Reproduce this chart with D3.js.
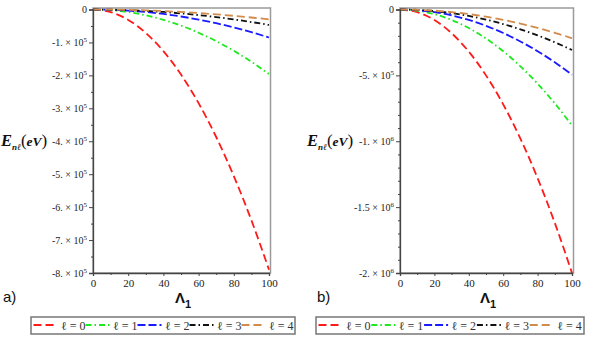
<!DOCTYPE html>
<html><head><meta charset="utf-8">
<script src="https://cdn.jsdelivr.net/npm/d3@7"></script>
<style>
body{margin:0;background:#fff;}
svg{display:block;}
</style></head>
<body>
<svg id="chart" width="589" height="343"></svg>
<script>
// ---------- data ----------
const lambda = [0, 10, 20, 30, 40, 50, 60, 70, 80, 90, 100];
const seriesNames = ["ℓ = 0", "ℓ = 1", "ℓ = 2", "ℓ = 3", "ℓ = 4"];
// panel a) energies (eV)
const a_l0 = [0, -7900, -31600, -71100, -126400, -197500, -284400, -387100, -505600, -639900, -790000];
const a_l1 = [0, -1960, -7840, -17640, -31360, -49000, -70560, -96040, -125440, -158760, -196000];
const a_l2 = [0, -850, -3400, -7650, -13600, -21250, -30600, -41650, -54400, -68850, -85000];
const a_l3 = [0, -470, -1880, -4230, -7520, -11750, -16920, -23030, -30080, -38070, -47000];
const a_l4 = [0, -300, -1200, -2700, -4800, -7500, -10800, -14700, -19200, -24300, -30000];
// panel b) energies (eV)
const b_l0 = [0, -20000, -80000, -180000, -320000, -500000, -720000, -980000, -1280000, -1620000, -2000000];
const b_l1 = [0, -8800, -35200, -79200, -140800, -220000, -316800, -431200, -563200, -712800, -880000];
const b_l2 = [0, -4950, -19800, -44550, -79200, -123750, -178200, -242550, -316800, -400950, -495000];
const b_l3 = [0, -3070, -12280, -27630, -49120, -76750, -110520, -150430, -196480, -248670, -307000];
const b_l4 = [0, -2180, -8720, -19620, -34880, -54500, -78480, -106820, -139520, -176580, -218000];
// ticks
const xTicks = [0, 20, 40, 60, 80, 100];
const xMinor = [10, 30, 50, 70, 90];
const yTicksA = [0, -100000, -200000, -300000, -400000, -500000, -600000, -700000, -800000];
const yTickLabelsA = ["0", "-1. × 10^5", "-2. × 10^5", "-3. × 10^5", "-4. × 10^5", "-5. × 10^5", "-6. × 10^5", "-7. × 10^5", "-8. × 10^5"];
const yMinorA = [-50000, -150000, -250000, -350000, -450000, -550000, -650000, -750000];
const yTicksB = [0, -500000, -1000000, -1500000, -2000000];
const yTickLabelsB = ["0", "-5. × 10^5", "-1. × 10^6", "-1.5 × 10^6", "-2. × 10^6"];
const yMinorB = [-100000, -200000, -300000, -400000, -600000, -700000, -800000, -900000, -1100000, -1200000, -1300000, -1400000, -1600000, -1700000, -1800000, -1900000];

// ---------- styles ----------
const colors = ["#ff1a1a", "#1ee81e", "#1a1aff", "#111111", "#d38a4a"];
const dashes = ["8,4", "6,3,1.5,3", "8,3", "6,3,1.5,3", "8,4"];
const SERIF = "'Liberation Serif', 'Times New Roman', Times, serif";
const SANS = "'Liberation Sans', Arial, sans-serif";

const svg = d3.select("#chart");

function panel(cfg) {
  const x = d3.scaleLinear().domain([0, 100]).range([cfg.x0, cfg.x1]);
  const y = d3.scaleLinear().domain([0, cfg.yMin]).range([cfg.y0, cfg.y1]);
  const g = svg.append("g");

  // frame
  g.append("rect").attr("x", cfg.x0).attr("y", cfg.y0 - 1.5)
    .attr("width", cfg.x1 - cfg.x0 + 1.5).attr("height", cfg.y1 - cfg.y0 + 1.5)
    .attr("fill", "none").attr("stroke", "#9a9a9a").attr("stroke-width", 1.5);

  // clip
  const cid = "clip" + cfg.id;
  svg.append("clipPath").attr("id", cid).append("rect")
    .attr("x", cfg.x0).attr("y", cfg.y0 - 3).attr("width", cfg.x1 - cfg.x0 + 2).attr("height", cfg.y1 - cfg.y0 + 4);

  // lines
  const line = d3.line().x((d, i) => x(lambda[i])).y(d => y(d)).curve(d3.curveMonotoneX);
  cfg.series.forEach((s, i) => {
    g.append("path").attr("d", line(s)).attr("fill", "none")
      .attr("stroke", colors[i]).attr("stroke-width", 1.8)
      .attr("stroke-dasharray", dashes[i]).attr("clip-path", `url(#${cid})`);
  });

  // y axis
  const yAxis = d3.axisLeft(y).tickValues(cfg.yTicks).tickSize(4).tickPadding(2)
    .tickFormat((d, i) => cfg.yLabels[i]);
  const ya = g.append("g").attr("transform", `translate(${cfg.x0},0)`).call(yAxis)
    .attr("font-family", SERIF);
  ya.select(".domain").attr("stroke", "#444").attr("stroke-width", 1.3);
  ya.selectAll(".tick line").attr("stroke", "#444");
  ya.selectAll(".tick text").each(function(d, i) {
    const t = d3.select(this);
    const parts = cfg.yLabels[i].split("^");
    t.text(null).style("font-family", SERIF)
      .attr("font-size", 10).attr("fill", "#222");
    t.append("tspan").text(parts[0]);
    if (parts[1]) t.append("tspan").attr("font-size", 7).attr("dy", -4).text(parts[1]);
  });
  const yMin = d3.axisLeft(y).tickValues(cfg.yMinor).tickSize(2).tickFormat("");
  const ym = g.append("g").attr("transform", `translate(${cfg.x0},0)`).call(yMin);
  ym.select(".domain").remove();
  ym.selectAll(".tick line").attr("stroke", "#444");

  // x axis
  const xAxis = d3.axisBottom(x).tickValues(xTicks).tickSize(3).tickPadding(3);
  const xa = g.append("g").attr("transform", `translate(0,${cfg.y1})`).call(xAxis)
    .attr("font-family", SERIF);
  xa.select(".domain").attr("stroke", "#444").attr("stroke-width", 1.3);
  xa.selectAll(".tick line").attr("stroke", "#444");
  xa.selectAll(".tick text").style("font-family", SERIF)
    .attr("font-size", 11).attr("fill", "#222");
  const xMin = d3.axisBottom(x).tickValues(xMinor).tickSize(2).tickFormat("");
  const xm = g.append("g").attr("transform", `translate(0,${cfg.y1})`).call(xMin);
  xm.select(".domain").remove();
  xm.selectAll(".tick line").attr("stroke", "#444");

  // y title
  const yt = g.append("text").attr("x", cfg.ytX).attr("y", 146)
    .style("font-family", SERIF).attr("fill", "#111");
  yt.append("tspan").attr("font-size", 16.5).attr("font-weight", "bold").attr("font-style", "italic").text("E");
  yt.append("tspan").attr("font-size", 9).attr("font-weight", "bold").attr("font-style", "italic").attr("dy", 4).text("nℓ");
  yt.append("tspan").attr("font-size", 17).attr("dy", -4).text("(");
  yt.append("tspan").attr("font-size", 13.5).attr("font-style", "italic").attr("font-weight", "bold").text("eV");
  yt.append("tspan").attr("font-size", 17).text(")");

  // x title
  const xt = g.append("text").attr("x", cfg.xtX).attr("y", 303)
    .style("font-family", SANS).attr("fill", "#111");
  xt.append("tspan").attr("font-size", 15).attr("font-weight", "bold").text("Λ");
  xt.append("tspan").attr("font-size", 11).attr("font-weight", "bold").attr("dy", 5).text("1");

  // panel tag
  g.append("text").attr("x", cfg.tagX).attr("y", 302)
    .style("font-family", SANS).attr("font-size", 15)
    .attr("fill", "#111").text(cfg.tag);

  // legend
  const lg = g.append("g");
  lg.append("rect").attr("x", cfg.lx0).attr("y", 317).attr("width", cfg.lx1 - cfg.lx0).attr("height", 17)
    .attr("fill", "#fff").attr("stroke", "#777").attr("stroke-width", 1.5);
  const step = (cfg.lx1 - cfg.lx0 - 4) / 5;
  seriesNames.forEach((n, i) => {
    const bx = cfg.lx0 + 2.5 + i * step;
    lg.append("line").attr("x1", bx).attr("x2", bx + 24).attr("y1", 325).attr("y2", 325)
      .attr("stroke", colors[i]).attr("stroke-width", 1.8).attr("stroke-dasharray", dashes[i]);
    lg.append("text").attr("x", bx + 27.5).attr("y", 329.5)
      .style("font-family", SERIF).attr("font-size", 12)
      .attr("fill", "#333").text(n);
  });
}

panel({id: "a", x0: 93, x1: 269, y0: 9.5, y1: 273, yMin: -800000,
  series: [a_l0, a_l1, a_l2, a_l3, a_l4], yTicks: yTicksA, yLabels: yTickLabelsA, yMinor: yMinorA,
  ytX: 1, xtX: 175, tagX: 3, tag: "a)", lx0: 31, lx1: 295});
panel({id: "b", x0: 400, x1: 572, y0: 9.5, y1: 273, yMin: -2000000,
  series: [b_l0, b_l1, b_l2, b_l3, b_l4], yTicks: yTicksB, yLabels: yTickLabelsB, yMinor: yMinorB,
  ytX: 307, xtX: 480, tagX: 317, tag: "b)", lx0: 316, lx1: 584});
</script>
</body></html>
